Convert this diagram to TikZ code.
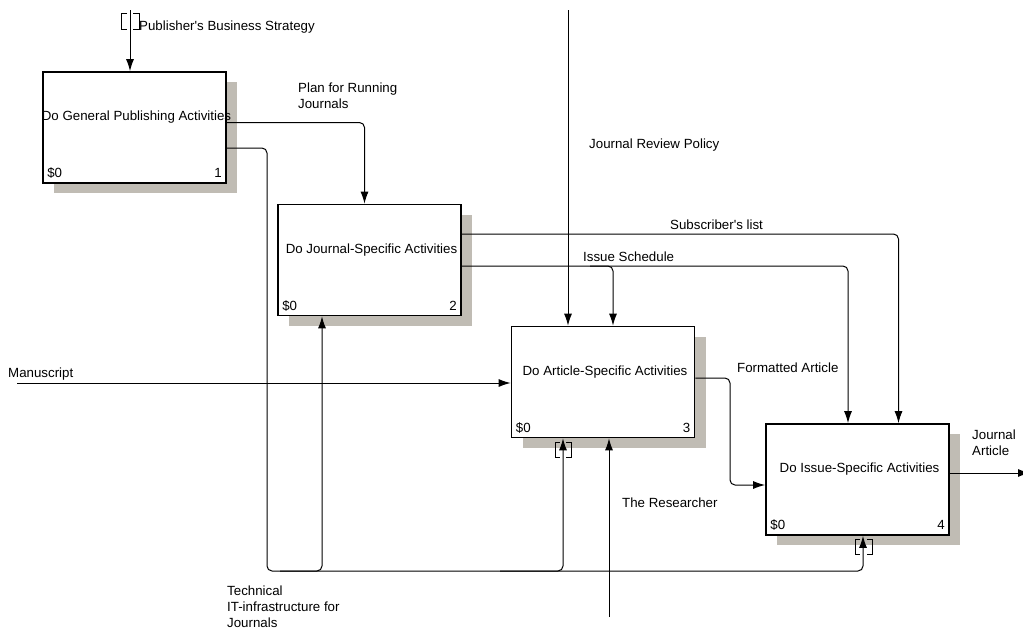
\documentclass[tikz,border=0pt]{standalone}
\usepackage{fontspec}
\setmainfont{Liberation Sans}
\usetikzlibrary{arrows.meta,shadows}
\definecolor{shadowgray}{RGB}{192,188,180}
\tikzset{
  >={Latex[length=12pt,width=8pt]},
}
\tikzstyle{every node}=[font=\fontsize{13.3}{16}\selectfont, inner sep=0pt]
\tikzstyle{activity}=[draw, line width=1.7pt, fill=white, minimum width=183pt, minimum height=111pt,
  general shadow={fill=shadowgray, shadow xshift=11pt, shadow yshift=-10pt}]
\tikzstyle{flow}=[line width=1pt, ->, rounded corners=5pt]
\tikzstyle{tunnel}=[line width=1pt]
\tikzstyle{flowtext}=[anchor=west, align=left]
\begin{document}
\begin{tikzpicture}[x=1pt,y=-1pt]
  \useasboundingbox (0,0) rectangle (1023,630);
  % activity boxes
  \node[activity] (a1) at (134.5,127.5) {};
  \node[activity] (a2) at (369.5,260) {};
  \node[activity] (a3) at (603,382) {};
  \node[activity] (a4) at (857.5,479.5) {};
  \node (a1t) at ([xshift=2pt,yshift=10pt]a1.center) {Do General Publishing Activities};
  \node (a2t) at ([xshift=2pt,yshift=10pt]a2.center) {Do Journal-Specific Activities};
  \node (a3t) at ([xshift=2pt,yshift=10pt]a3.center) {Do Article-Specific Activities};
  \node (a4t) at ([xshift=2pt,yshift=10pt]a4.center) {Do Issue-Specific Activities};
  \node[anchor=base west] (a1c) at ([xshift=5pt,yshift=6pt]a1.south west) {\$0};
  \node[anchor=base west] (a2c) at ([xshift=5pt,yshift=6pt]a2.south west) {\$0};
  \node[anchor=base west] (a3c) at ([xshift=5pt,yshift=6pt]a3.south west) {\$0};
  \node[anchor=base west] (a4c) at ([xshift=5pt,yshift=6pt]a4.south west) {\$0};
  \node[anchor=base east] (a1n) at ([xshift=-5pt,yshift=6pt]a1.south east) {1};
  \node[anchor=base east] (a2n) at ([xshift=-5pt,yshift=6pt]a2.south east) {2};
  \node[anchor=base east] (a3n) at ([xshift=-5pt,yshift=6pt]a3.south east) {3};
  \node[anchor=base east] (a4n) at ([xshift=-5pt,yshift=6pt]a4.south east) {4};

  % free ends
  \coordinate (pbs) at (130,10);
  \coordinate (jrp) at (568,10);
  \coordinate (ms) at (17,383);
  \coordinate (res) at (609,617);
  \coordinate (ja) at (1030,473);
  \coordinate (itb) at (280,571);
  \coordinate (itc) at (500,571);
  \coordinate (isb) at (590,266);

  % arrows
  \draw[flow] (pbs) -- (pbs |- a1.north);
  \draw[flow] ([yshift=5pt]a1.east) -| ([xshift=-5pt]a2.north);
  \draw[flow] ([yshift=-20.5pt]a1.east) -| (267,571) -| ([xshift=5.5pt]a4.south);
  \draw[flow] (itb) -| ([xshift=-47.5pt]a2.south);
  \draw[flow] (itc) -| ([xshift=-40pt]a3.south);
  \draw[flow] (jrp) -- (jrp |- a3.north);
  \draw[flow] ([yshift=26pt]a2.east) -| ([xshift=41pt]a4.north);
  \draw[flow] ([yshift=-6pt]a2.east) -| ([xshift=-9.5pt]a4.north);
  \draw[flow] (isb) -| ([xshift=10pt]a3.north);
  \draw[flow] (ms) -- (ms -| a3.west);
  \draw[flow] ([yshift=4pt]a3.east) -| (730,485) -- ([yshift=-5.5pt]a4.west);
  \draw[flow] (res) -- (res |- a3.south);
  \draw[flow] ([yshift=6.5pt]a4.east) -- (ja);

  % tunnel brackets
  \draw[tunnel] (127,13) -| (121,29) -- (127,29);
  \draw[tunnel] (133,13) -| (139,29) -- (133,29);
  \draw[tunnel] (560,442) -| (555,457) -- (560,457);
  \draw[tunnel] (566,442) -| (571,457) -- (566,457);
  \draw[tunnel] (860,539) -| (855,554) -- (860,554);
  \draw[tunnel] (867,539) -| (872,554) -- (867,554);

  % arrow labels
  \node[flowtext] (pbsl) at (139,27) {Publisher\textquotesingle s Business Strategy};
  \node[flowtext, anchor=north west] (prjl) at (298,83) {Plan for Running\\Journals};
  \node[flowtext] (jrpl) at (589,145) {Journal Review Policy};
  \node[flowtext] (subl) at (670,225) {Subscriber\textquotesingle s list};
  \node[flowtext] (isl) at (583,257) {Issue Schedule};
  \node[flowtext] (fal) at (737,368) {Formatted Article};
  \node[flowtext] (msl) at (8,374) {Manuscript};
  \node[flowtext] (resl) at (622,503) {The Researcher};
  \node[flowtext, anchor=north west] (jal) at (972,430) {Journal\\Article};
  \node[flowtext, anchor=north west] (itl) at (227,586) {Technical\\IT-infrastructure for\\Journals};
\end{tikzpicture}
\end{document}
